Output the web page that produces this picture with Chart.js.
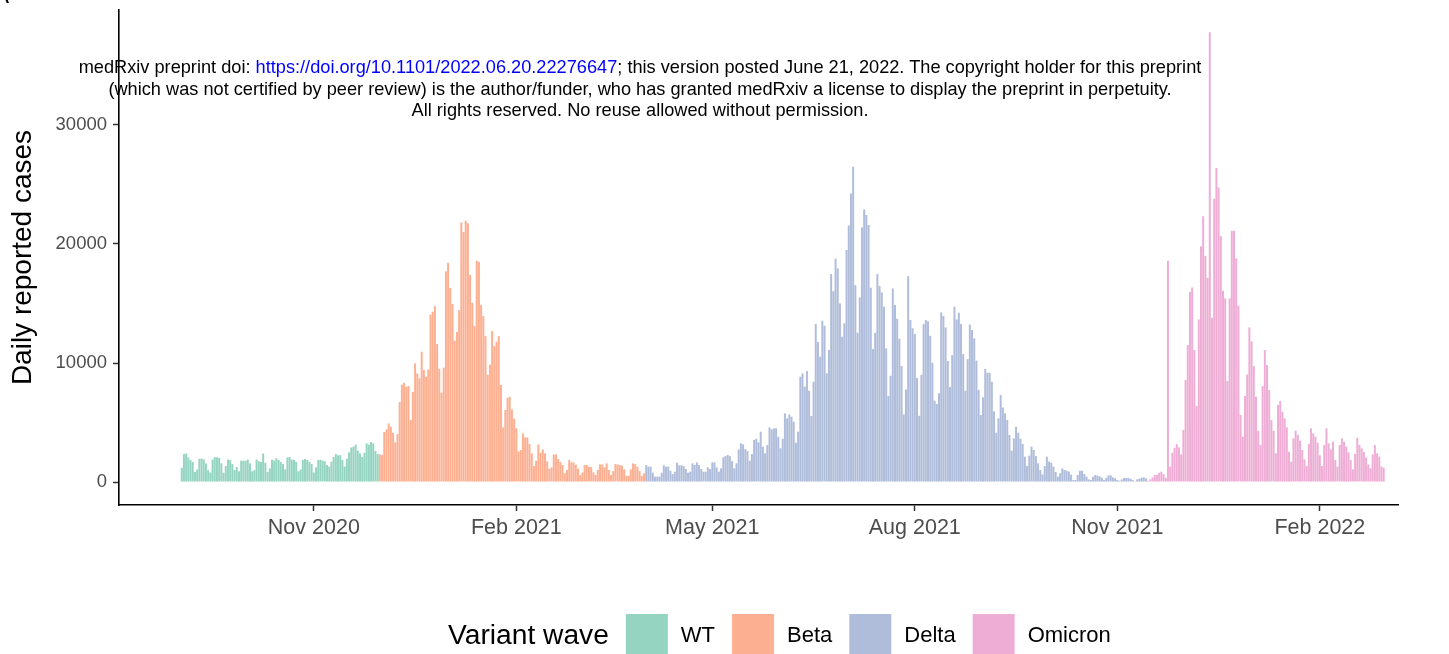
<html>
  <head>
    <script src="https://cdn.jsdelivr.net/npm/chart.js@4.4.0/dist/chart.umd.min.js"></script>
    <style>
      body { margin: 0; background: #fff; }
      #wrap { position: relative; width: 1449px; height: 654px; overflow: hidden; }
      #note { position: absolute; left: 0; top: 57px; width: 1280px; text-align: center;
              font: 18.2px "Liberation Sans", Arial, sans-serif; line-height: 21.5px; color: #000; }
      #note a { color: #0000ff; text-decoration: none; }
      #tag { position: absolute; left: -7px; top: -19px; font: 24px "Liberation Sans", Arial, sans-serif; }
    </style>
  </head>
  <body>
    <div id="wrap">
      <canvas id="myChart" width="1449" height="654"></canvas>
      <div id="tag">A</div>
      <div id="note">medRxiv preprint doi: <a>https://doi.org/10.1101/2022.06.20.22276647</a>; this version posted June 21, 2022. The copyright holder for this preprint<br>(which was not certified by peer review) is the author/funder, who has granted medRxiv a license to display the preprint in perpetuity.<br>All rights reserved. No reuse allowed without permission.</div>
    </div>

    <script>
      // daily reported cases per variant wave
      var wtStart = '2020-09-02'
      var wt = [1200, 2350, 2400, 2070, 1850, 1680, 840, 1060, 1960, 1960,
        1900, 1570, 1000, 800, 1880, 2100, 2070, 2040, 1570, 780,
        1340, 1880, 1850, 1510, 1000, 1260, 900, 1790, 1790, 1790,
        1880, 1570, 900, 1000, 1880, 1740, 1680, 2400, 1620, 840,
        1150, 1880, 1790, 2000, 1850, 1680, 1510, 1060, 2070, 2100,
        1880, 1850, 1700, 900, 1060, 1850, 1930, 1850, 1700, 1510,
        800, 1230, 1850, 1880, 1790, 1740, 1430, 1290, 1700, 2100,
        2350, 2250, 2250, 1850, 1290, 1960, 2500, 2900, 2970, 3140,
        2630, 2400, 2100, 2460, 3250, 3140, 3360, 3250, 2600, 2350]

      var betaStart = '2020-12-01'
      var beta = [2330, 2270, 4200, 4420, 4930, 4650, 4140, 3330, 4030, 6720,
        8180, 8340, 8010, 8060, 5210, 7560, 9970, 9130, 8710, 10950,
        9410, 8850, 9460, 14060, 14310, 14780, 11590, 9520, 7500, 9600,
        17700, 18420, 16300, 14950, 11870, 12600, 14450, 21800, 21000, 21950,
        21750, 17400, 15060, 13100, 18600, 18500, 14870, 13940, 12260, 9020,
        9860, 12700, 11420, 11790, 12260, 8150, 4590, 6050, 7080, 7170,
        6100, 5320, 4510, 2550, 2690, 4090, 3750, 3750, 3190, 2410,
        1340, 1790, 3160, 2460, 2740, 2410, 1740, 1120, 1230, 2320,
        2320, 1930, 1680, 1430, 730, 1010, 1850, 1650, 1650, 1460,
        1120, 590, 810, 1430, 1430, 1290, 1260, 810, 590, 1010,
        1480, 1480, 1230, 1570, 1010, 590, 920, 1510, 1480, 1430,
        1370, 1060, 530, 530, 1060, 1570, 1510, 1290, 920, 500,
        730]

      var deltaStart = '2021-04-01'
      var delta = [1430, 1290, 1290, 780, 450, 450, 450, 780, 1400, 1290,
        1290, 950, 670, 870, 1620, 1400, 1400, 1340, 1090, 780,
        870, 1570, 1430, 1650, 1430, 1090, 870, 870, 1230, 1090,
        1650, 1650, 1230, 870, 1150, 2070, 2180, 2270, 2180, 1760,
        1150, 1570, 2740, 3250, 3160, 2770, 2600, 1790, 2350, 3530,
        3640, 3330, 4230, 2970, 2410, 3110, 4590, 4420, 4510, 4510,
        3810, 2830, 3640, 5770, 5350, 5680, 5490, 5070, 3300, 4230,
        8850, 9130, 8010, 9320, 7670, 5540, 8430, 13270, 11760, 10530,
        13550, 13130, 9130, 11090, 17470, 16040, 18760, 17950, 15010, 12210,
        13330, 19490, 21560, 24250, 26490, 16540, 12540, 15510, 21390, 22900,
        22430, 21590, 16320, 11170, 12540, 17470, 16460, 15930, 14730, 11230,
        7220, 8930, 16260, 14870, 13720, 12040, 9740, 5680, 7780, 17300,
        13610, 12910, 12430, 8740, 5570, 9010, 13270, 13610, 13500, 12290,
        10020, 6830, 6550, 7450, 14250, 13940, 12990, 10160, 7980, 10670,
        14730, 13660, 14220, 13270, 10750, 7670, 10330, 13240, 12770, 12070,
        10190, 7730, 5630, 7110, 9490, 9180, 9180, 8430, 5940, 4140,
        5350, 7310, 6270, 5770, 5210, 3950, 2630, 3670, 4650, 4140,
        3640, 3190, 2130, 1340, 2210, 2970, 2690, 2180, 1570, 1010,
        640, 1340, 2130, 1710, 1620, 1290, 840, 450, 730, 1150,
        1010, 950, 870, 620, 170, 170, 590, 950, 950, 670,
        450, 220, 170, 450, 590, 530, 480, 360, 170, 360,
        560, 560, 390, 310, 170, 110, 220, 340, 340, 340,
        280, 170, 60, 220, 280, 360, 390, 310]

      var omicronStart = '2021-11-15'
      var omicron = [110, 220, 390, 590, 590, 780, 870, 670, 360, 18590,
        1290, 2460, 2880, 3190, 2910, 2320, 4370, 8570, 11510, 15990,
        16350, 11090, 6380, 13660, 19800, 22340, 19010, 17160, 37800, 13800,
        23800, 26380, 24750, 20660, 16070, 15430, 8480, 15430, 21110, 21110,
        18790, 14810, 5630, 3810, 7220, 9040, 13000, 11820, 9740, 7170,
        4310, 3110, 8060, 11090, 9830, 7730, 5200, 4300, 2410, 6470,
        6800, 5910, 5350, 4590, 2550, 1710, 3670, 4310, 3950, 3470,
        2690, 1900, 1340, 3190, 4510, 4090, 3810, 3300, 2240, 1340,
        3110, 4510, 3250, 2740, 3390, 1850, 1290, 3110, 3670, 3390,
        2970, 2490, 1850, 1060, 2350, 3720, 3110, 2830, 2520, 2070,
        1480, 1150, 2320, 3110, 2410, 2130, 1290, 1200]

      var waveNames = ['WT', 'Beta', 'Delta', 'Omicron']
      var waveColors = ['rgba(102,194,165,0.7)', 'rgba(252,141,98,0.7)', 'rgba(141,160,203,0.7)', 'rgba(231,138,195,0.7)']

      var tickDates = ['2020-11-01', '2021-02-01', '2021-05-01', '2021-08-01', '2021-11-01', '2022-02-01']
      var tickLabels = ['Nov 2020', 'Feb 2021', 'May 2021', 'Aug 2021', 'Nov 2021', 'Feb 2022']
      var yTicks = [0, 10000, 20000, 30000]

      // one category per day, covering the axis range
      var firstDay = Date.UTC(2020, 7, 5)
      var nDays = 581
      var labels = []
      for (var i = 0; i < nDays; i++) {
        labels.push(new Date(firstDay + i * 86400000).toISOString().slice(0, 10))
      }

      function place(start, values) {
        var out = labels.map(function () { return null })
        var k = labels.indexOf(start)
        values.forEach(function (v, j) { out[k + j] = v })
        return out
      }

      var series = [place(wtStart, wt), place(betaStart, beta), place(deltaStart, delta), place(omicronStart, omicron)]

      var font = '"Liberation Sans", Arial, sans-serif'

      var legendPlugin = {
        id: 'waveLegend',
        afterDraw: function (chart) {
          var ctx = chart.ctx
          ctx.save()
          var x = 448, cy = 636
          ctx.textBaseline = 'middle'
          ctx.textAlign = 'left'
          ctx.fillStyle = '#000'
          ctx.font = '28.2px ' + font
          ctx.fillText('Variant wave', x, cy)
          x += ctx.measureText('Variant wave').width + 17
          ctx.font = '22px ' + font
          chart.data.datasets.forEach(function (ds) {
            ctx.fillStyle = ds.backgroundColor
            ctx.fillRect(x, 614, 42, 42)
            x += 42 + 13
            ctx.fillStyle = '#000'
            ctx.fillText(ds.label, x, cy)
            x += ctx.measureText(ds.label).width + 17
          })
          ctx.restore()
        }
      }

      var ctx = document.getElementById('myChart').getContext('2d')
      var chart = new Chart(ctx, {
        type: 'bar',
        data: {
          labels: labels,
          datasets: waveNames.map(function (name, i) {
            return {
              label: name,
              data: series[i],
              backgroundColor: waveColors[i],
              grouped: false,
              barPercentage: 0.9,
              categoryPercentage: 1.0
            }
          })
        },
        options: {
          responsive: false,
          animation: false,
          devicePixelRatio: 1,
          layout: { padding: { left: 0, right: 51, top: 10, bottom: 89 } },
          plugins: { legend: { display: false }, tooltip: { enabled: false } },
          scales: {
            x: {
              offset: true,
              grid: { display: true, drawOnChartArea: false, offset: false, tickLength: 6, tickColor: '#333', tickWidth: 1.5 },
              border: { display: true, color: '#000', width: 1.6 },
              ticks: {
                autoSkip: false, maxRotation: 0, padding: 4, color: '#4d4d4d',
                font: { family: font, size: 21.5 },
                callback: function (v, i) {
                  var k = tickDates.indexOf(labels[i])
                  return k >= 0 ? tickLabels[k] : null
                }
              },
              afterFit: function (scale) { scale.height = 60 }
            },
            y: {
              min: -1930,
              max: 39660,
              grid: { display: true, drawOnChartArea: false, tickLength: 6, tickColor: '#333', tickWidth: 1.5 },
              border: { display: true, color: '#000', width: 1.6 },
              ticks: { padding: 6, color: '#4d4d4d', font: { family: font, size: 18.5 }, callback: function (v) { return String(v) } },
              afterBuildTicks: function (scale) { scale.ticks = yTicks.map(function (v) { return { value: v } }) },
              title: { display: true, text: 'Daily reported cases', color: '#000', font: { family: font, size: 28 }, padding: { top: 6, bottom: 0 } },
              afterFit: function (scale) {
                scale.width = 119
                scale.paddingTop = 0
                scale.paddingBottom = 0
              }
            }
          }
        },
        plugins: [legendPlugin]
      })
    </script>
  </body>
</html>
